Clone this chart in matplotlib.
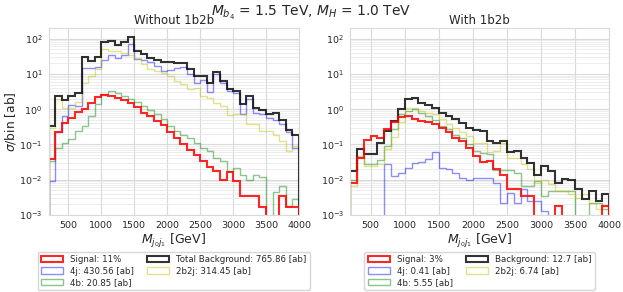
import numpy as np
import matplotlib
matplotlib.use("Agg")
import matplotlib.pyplot as plt
import seaborn as sns

sns.set_style("whitegrid")
plt.rcParams['font.family'] = ['DejaVu Sans']

# 100 GeV bins from 200 to 4000 GeV
edges = np.arange(200, 4001, 100)
centers = 0.5 * (edges[:-1] + edges[1:])

# ---- Without 1b2b ----
sig_L = [0.038, 0.22, 0.4, 0.55, 0.84, 1.0, 1.45, 2.2, 2.5, 2.4, 2.05, 1.8, 1.45, 1.15,
         0.8, 0.62, 0.45, 0.35, 0.22, 0.15, 0.1, 0.07, 0.05, 0.034, 0.023, 0.018, 0.01,
         0.016, 0.009, 0.0035, 0.0035, 0.0035, 0.0017, 0, 0, 0.0034, 0.0017, 0.0017]
bkg_L = [0.33, 2.3, 1.8, 2.4, 2.8, 31, 23, 31, 78, 85, 66, 81, 109, 45, 36, 29, 24, 22,
         22, 21, 20, 13.7, 9, 9, 5.7, 11.5, 6.4, 3.7, 3.3, 1.4, 2.4, 1.1, 0.93, 0.75, 0.8,
         0.5, 0.26, 0.18]
j4_L = [0.009, 0.22, 0.65, 1.3, 1.2, 15, 15, 16, 24, 34, 29, 34, 70, 26, 24, 22, 17, 12,
        13, 14.5, 16, 10, 5.4, 6.6, 3.0, 9.8, 5.7, 3.2, 2.8, 0.72, 2.0, 0.8, 0.72, 0.55,
        0.5, 0.37, 0.22, 0.08]
b2j2_L = [0.3, 2.0, 1.1, 1.1, 1.6, 5.7, 8.9, 14, 50, 45, 45, 38, 34, 28, 19, 13.7, 12,
          10.5, 8.9, 6.4, 5.1, 3.7, 4.0, 2.4, 2.1, 1.45, 1.24, 0.7, 0.72, 0.72, 0.37, 0.37,
          0.24, 0.24, 0.19, 0.126, 0.065, 0.09]
b4_L = [0.034, 0.08, 0.11, 0.14, 0.24, 0.34, 0.65, 1.4, 2.7, 3.2, 2.8, 2.4, 1.9, 1.55,
        1.25, 0.95, 0.72, 0.52, 0.34, 0.24, 0.18, 0.155, 0.11, 0.08, 0.065, 0.04, 0.034,
        0.018, 0.021, 0.014, 0.01, 0.014, 0.012, 0, 0.0044, 0.0066, 0.0018, 0.0028]

# ---- With 1b2b ----
sig_R = [0.0083, 0.042, 0.13, 0.17, 0.15, 0.27, 0.42, 0.58, 0.62, 0.52, 0.45, 0.42, 0.37,
         0.3, 0.22, 0.15, 0.126, 0.08, 0.047, 0.032, 0.033, 0.02, 0.014, 0.0053, 0.0053,
         0.0035, 0.0035, 0, 0, 0, 0.0018, 0, 0, 0, 0, 0, 0, 0.0018]
bkg_R = [0.018, 0.073, 0.053, 0.055, 0.11, 0.24, 0.47, 1.0, 1.9, 2.05, 1.48, 1.3, 1.1, 0.8,
         0.65, 0.54, 0.4, 0.3, 0.26, 0.24, 0.126, 0.11, 0.126, 0.061, 0.065, 0.04, 0.03,
         0.014, 0.024, 0.018, 0.0083, 0.0105, 0.0098, 0.0053, 0.0028, 0.0048, 0.0025, 0.0038]
j4_R = [0, 0, 0, 0, 0, 0.028, 0.013, 0.015, 0.022, 0.03, 0.032, 0.038, 0.06, 0.022, 0.02,
        0.015, 0.011, 0.01, 0.011, 0.011, 0.011, 0.0083, 0.0022, 0.0043, 0.0022, 0.0053,
        0.0025, 0.0025, 0.0013, 0, 0, 0, 0, 0, 0, 0, 0, 0]
b2j2_R = [0.0066, 0.047, 0.024, 0.024, 0.027, 0.073, 0.157, 0.42, 1.07, 1.1, 0.9, 0.8, 0.72,
          0.52, 0.37, 0.3, 0.22, 0.17, 0.11, 0.11, 0.059, 0.065, 0.11, 0.04, 0.042, 0.027,
          0.02, 0.0083, 0.01, 0.0074, 0.0048, 0.0048, 0.0038, 0.0031, 0.0038, 0.0022,
          0.0015, 0.0018]
b4_R = [0.0095, 0.045, 0.028, 0.028, 0.035, 0.09, 0.27, 0.72, 0.9, 1.0, 0.8, 0.62, 0.5,
        0.34, 0.27, 0.19, 0.15, 0.1, 0.065, 0.056, 0.055, 0.019, 0.019, 0.019, 0.015, 0.0066,
        0.0066, 0.0092, 0.0035, 0.0048, 0.0048, 0.0048, 0.0048, 0, 0, 0.0022, 0.0022, 0.0015]

panels = [
    ("Without 1b2b", sig_L, j4_L, b4_L, bkg_L, b2j2_L,
     ["Signal: 11%", "4j: 430.56 [ab]", "4b: 20.85 [ab]",
      "Total Background: 765.86 [ab]", "2b2j: 314.45 [ab]"]),
    ("With 1b2b", sig_R, j4_R, b4_R, bkg_R, b2j2_R,
     ["Signal: 3%", "4j: 0.41 [ab]", "4b: 5.55 [ab]",
      "Background: 12.7 [ab]", "2b2j: 6.74 [ab]"]),
]

fig = plt.figure(figsize=(6.23, 2.92), dpi=100)
axes = [fig.add_axes([0.078, 0.264, 0.402, 0.640]),
        fig.add_axes([0.562, 0.264, 0.416, 0.640])]

for ax, (title, sig, j4, b4, bkg, b2j2, labels) in zip(axes, panels):
    ax.set_yscale('log')
    _, _, p_j4 = ax.hist(centers, bins=edges, weights=j4, histtype='step',
                         color='blue', alpha=0.45, lw=1.0, label=labels[1])
    _, _, p_b4 = ax.hist(centers, bins=edges, weights=b4, histtype='step',
                         color='green', alpha=0.45, lw=1.0, label=labels[2])
    _, _, p_b2j2 = ax.hist(centers, bins=edges, weights=b2j2, histtype='step',
                           color='y', alpha=0.45, lw=1.0, label=labels[4])
    _, _, p_bkg = ax.hist(centers, bins=edges, weights=bkg, histtype='step',
                          color='black', alpha=0.8, lw=1.5, label=labels[3])
    _, _, p_sig = ax.hist(centers, bins=edges, weights=sig, histtype='step',
                          color='red', alpha=0.85, lw=1.5, label=labels[0])
    ax.set_xlim(200, 4000)
    ax.set_ylim(1e-3, 2e2)
    ax.set_xticks(np.arange(500, 4001, 500))
    ax.tick_params(labelsize=6.8, pad=1)
    ax.grid(True, which='major', color='0.85', lw=0.8)
    ax.yaxis.grid(True, which='minor', color='0.9', lw=0.5)
    ax.set_title(title, fontsize=8.5, pad=3)
    ax.set_xlabel(r'$M_{j_0 j_1}$ [GeV]', fontsize=9, labelpad=1)
    for s in ax.spines.values():
        s.set_color('0.85')
    handles = [p_sig[0], p_j4[0], p_b4[0], p_bkg[0], p_b2j2[0]]
    ax.legend(handles, labels, ncol=2, fontsize=6.2, loc='upper center',
              bbox_to_anchor=(0.5, -0.175), handlelength=2.6, columnspacing=1.5,
              labelspacing=0.25, borderpad=0.4)

axes[0].set_ylabel(r'$\sigma$/bin [ab]', fontsize=8.8, labelpad=1)
fig.suptitle(r'$M_{b_4}$ = 1.5 TeV, $M_H$ = 1.0 TeV', fontsize=10, y=0.985)

fig.savefig('out.png', dpi=100)
